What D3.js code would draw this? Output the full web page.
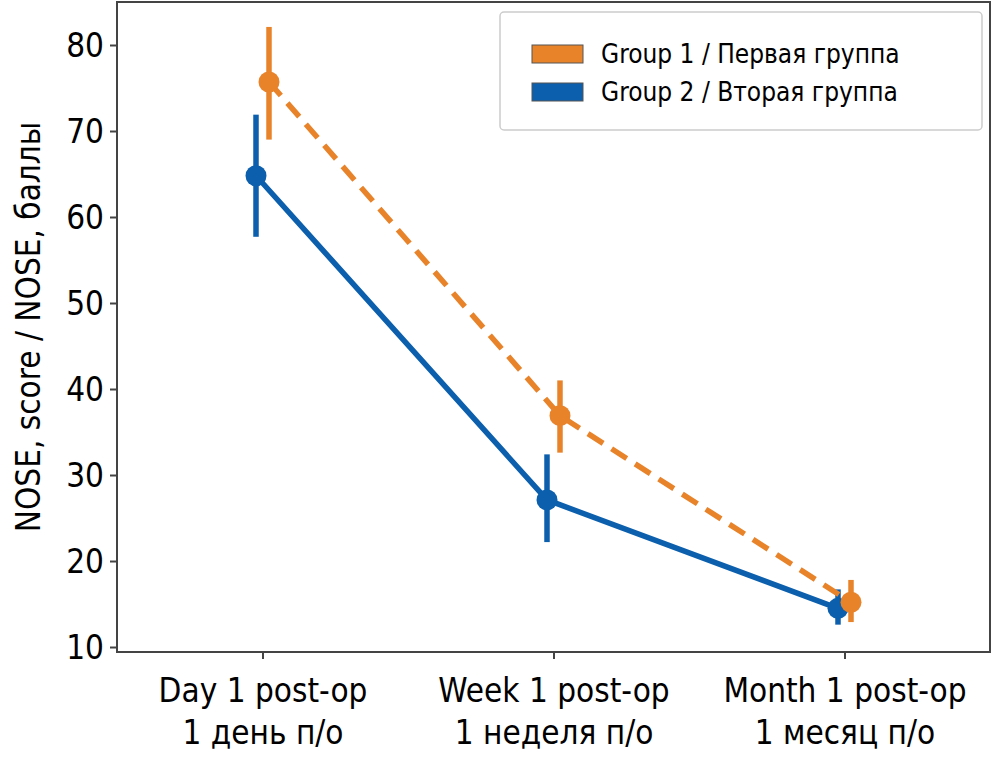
<!DOCTYPE html>
<html><head><meta charset="utf-8">
<script src="https://cdn.jsdelivr.net/npm/d3@7"></script>
<style>
body{margin:0;background:#fff;}
text{font-family:"Liberation Sans Narrow","DejaVu Sans Condensed","Roboto Condensed",sans-serif;fill:#000;}
</style></head>
<body><svg id="c" width="993" height="765"></svg>
<script>
const categories = ["Day 1 post-op|1 день п/о", "Week 1 post-op|1 неделя п/о", "Month 1 post-op|1 месяц п/о"];
const seriesNames = ["Group 1 / Первая группа", "Group 2 / Вторая группа"];
const group1Mean = [75.7, 36.9, 15.2];
const group1Low  = [69.0, 32.6, 12.9];
const group1High = [82.1, 41.0, 17.8];
const group2Mean = [64.8, 27.1, 14.5];
const group2Low  = [57.7, 22.2, 12.6];
const group2High = [71.9, 32.4, 16.7];
const yTicks = [10, 20, 30, 40, 50, 60, 70, 80];

const colors = ["#e8832a", "#0b5fad"];
const dodge = [6.5, -6.5];
const dashes = ["18,10", null];

const svg = d3.select("#c");
const L = 117, R = 990, T = 2, B = 652;
const x = d3.scalePoint().domain(categories).range([L, R]).padding(0.5);
const y = d3.scaleLinear().domain([9.42, 85.0]).range([B, T]);

const series = [
  {name: seriesNames[0], mean: group1Mean, lo: group1Low, hi: group1High},
  {name: seriesNames[1], mean: group2Mean, lo: group2Low, hi: group2High}
];

[1, 0].forEach(si => {
  const s = series[si];
  const pts = categories.map((c, i) => ({x: x(c) + dodge[si], m: s.mean[i], lo: s.lo[i], hi: s.hi[i]}));
  svg.append("path")
    .attr("d", d3.line().x(d => d.x).y(d => y(d.m))(pts))
    .attr("fill", "none").attr("stroke", colors[si]).attr("stroke-width", 5.5)
    .attr("stroke-dasharray", dashes[si]);
  svg.selectAll(null).data(pts).enter().append("line")
    .attr("x1", d => d.x).attr("x2", d => d.x)
    .attr("y1", d => y(d.lo)).attr("y2", d => y(d.hi))
    .attr("stroke", colors[si]).attr("stroke-width", 5.5);
  svg.selectAll(null).data(pts).enter().append("circle")
    .attr("cx", d => d.x).attr("cy", d => y(d.m)).attr("r", 10.5)
    .attr("fill", colors[si]);
});

svg.append("rect").attr("x", L).attr("y", T).attr("width", R - L).attr("height", B - T)
  .attr("fill", "none").attr("stroke", "#444").attr("stroke-width", 2);

const yAxis = svg.append("g").attr("transform", `translate(${L},0)`)
  .call(d3.axisLeft(y).tickValues(yTicks).tickSize(7).tickPadding(6));
yAxis.select(".domain").remove();
yAxis.selectAll(".tick line").attr("stroke", "#444").attr("stroke-width", 2);
yAxis.selectAll(".tick text").attr("font-size", 33).attr("dy", "0.36em");

const xAxis = svg.append("g").attr("transform", `translate(0,${B})`)
  .call(d3.axisBottom(x).tickSize(7).tickFormat(""));
xAxis.select(".domain").remove();
xAxis.selectAll(".tick line").attr("stroke", "#444").attr("stroke-width", 2);
xAxis.selectAll(".tick").each(function(c) {
  const parts = c.split("|");
  const t = d3.select(this).append("text").attr("text-anchor", "middle").attr("font-size", 33).attr("fill", "#000");
  t.append("tspan").attr("x", 0).attr("y", 50).text(parts[0]);
  t.append("tspan").attr("x", 0).attr("y", 92).text(parts[1]);
});

svg.append("text").attr("transform", `translate(40,${(T + B) / 2}) rotate(-90)`)
  .attr("text-anchor", "middle").attr("font-size", 33).text("NOSE, score / NOSE, баллы");

const lg = svg.append("g");
lg.append("rect").attr("x", 500).attr("y", 12).attr("width", 482).attr("height", 118).attr("rx", 4)
  .attr("fill", "#fff").attr("stroke", "#ccc").attr("stroke-width", 1.5);
series.forEach((s, i) => {
  lg.append("rect").attr("x", 532).attr("y", 45 + i * 38).attr("width", 51).attr("height", 18)
    .attr("fill", colors[i]).attr("stroke", "#555").attr("stroke-width", 1);
  lg.append("text").attr("x", 601).attr("y", 63 + i * 38).attr("font-size", 26).text(s.name);
});
</script></body></html>
